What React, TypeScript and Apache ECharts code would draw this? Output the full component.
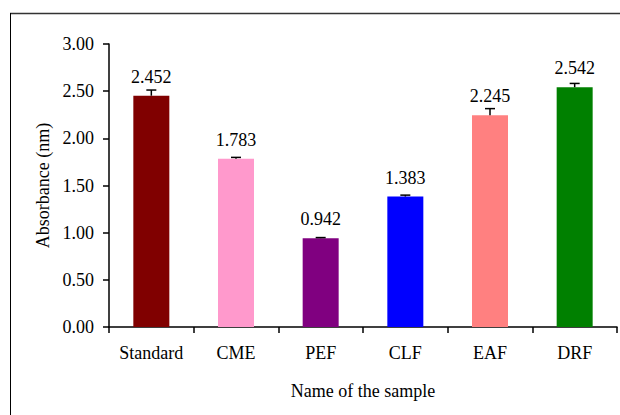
import React, { useEffect, useRef } from "react";
import * as echarts from "echarts";

const categories = ["Standard", "CME", "PEF", "CLF", "EAF", "DRF"];
const values = [2.452, 1.783, 0.942, 1.383, 2.245, 2.542];
const errors = [0.06, 0.015, 0.006, 0.015, 0.07, 0.04];
const colors = ["#800000", "#FF99CC", "#800080", "#0000FF", "#FF8080", "#008000"];
const yTicks = { min: 0, max: 3, interval: 0.5 };

const FONT = "Liberation Serif";

export default function App() {
  const ref = useRef<HTMLDivElement>(null);
  useEffect(() => {
    if (!ref.current) return;
    const chart = echarts.init(ref.current, null, { renderer: "svg" });
    const option: any = {
      animation: false,
      backgroundColor: "#ffffff",
      textStyle: { fontFamily: FONT },
      grid: { left: 109, right: 3, top: 44, bottom: 88, containLabel: false },
      graphic: [
        { type: "line", shape: { x1: 10, y1: 13.5, x2: 620, y2: 13.5 }, style: { stroke: "#333", lineWidth: 1.5 } },
        { type: "line", shape: { x1: 10.5, y1: 13, x2: 10.5, y2: 415 }, style: { stroke: "#000", lineWidth: 1 } },
      ],
      xAxis: {
        type: "category",
        data: categories,
        name: "Name of the sample",
        nameLocation: "middle",
        nameGap: 55,
        nameTextStyle: { fontFamily: FONT, fontSize: 18, color: "#000" },
        axisLine: { lineStyle: { color: "#000", width: 1.5 } },
        axisTick: { show: true, alignWithLabel: false, inside: false, length: 6, lineStyle: { color: "#000", width: 1.5 } },
        axisLabel: { fontFamily: FONT, fontSize: 18, color: "#000", margin: 17 },
        splitLine: { show: false },
      },
      yAxis: {
        type: "value",
        min: yTicks.min,
        max: yTicks.max,
        interval: yTicks.interval,
        name: "Absorbance (nm)",
        nameLocation: "middle",
        nameGap: 57,
        nameTextStyle: { fontFamily: FONT, fontSize: 18, color: "#000" },
        axisLine: { show: true, lineStyle: { color: "#000", width: 1.5 } },
        axisTick: { show: true, inside: false, length: 6, lineStyle: { color: "#000", width: 1.5 } },
        axisLabel: { fontFamily: FONT, fontSize: 18, color: "#000", margin: 15, formatter: (v: number) => v.toFixed(2) },
        splitLine: { show: false },
      },
      series: [
        {
          type: "bar",
          barWidth: 36,
          data: values.map((v, i) => ({ value: v, itemStyle: { color: colors[i] } })),
          label: {
            show: true,
            position: "top",
            distance: 10,
            fontFamily: FONT,
            fontSize: 18,
            color: "#000",
            formatter: (p: any) => values[p.dataIndex].toFixed(3),
          },
          z: 2,
        },
        {
          type: "custom",
          data: values.map((v, i) => [i, v, errors[i]]),
          z: 3,
          renderItem: (params: any, api: any) => {
            const x = api.value(0);
            const v = api.value(1);
            const e = api.value(2);
            const base = api.coord([x, v]);
            const top = api.coord([x, v + e]);
            const hw = 5;
            return {
              type: "group",
              children: [
                { type: "line", shape: { x1: base[0], y1: base[1], x2: top[0], y2: top[1] }, style: { stroke: "#000", lineWidth: 1.5 } },
                { type: "line", shape: { x1: top[0] - hw, y1: top[1], x2: top[0] + hw, y2: top[1] }, style: { stroke: "#000", lineWidth: 1.5 } },
              ],
            };
          },
        },
      ],
    };
    chart.setOption(option);
    return () => chart.dispose();
  }, []);
  return (
    <div
      ref={ref}
      style={{ position: "absolute", left: 0, top: 0, width: 620, height: 415 }}
    />
  );
}
